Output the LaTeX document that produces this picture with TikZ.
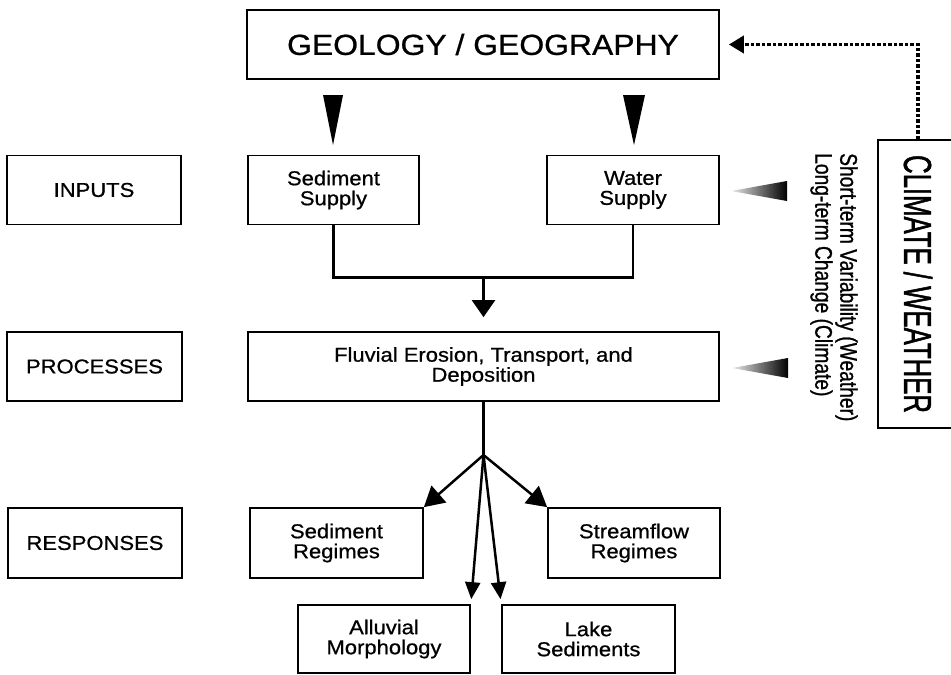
\documentclass[tikz,border=0pt]{standalone}
\usepackage{fontspec}
\setmainfont{Liberation Sans}[FakeStretch=1.1,FakeBold=0.8]
\newfontfamily\narrowfont{Liberation Sans}[FakeStretch=0.8,FakeBold=1]
\newfontfamily\tallfont{Liberation Sans}[FakeStretch=0.66,FakeBold=1.2]
\usetikzlibrary{arrows.meta,shapes}
\tikzset{
	box/.style={draw,line width=1.7pt,minimum width=172pt,minimum height=69pt,align=center,inner sep=0pt,font=\fontsize{20}{20}\selectfont},
	edge/.style={color=black, line width=2.5pt},
	diredge/.style={-{Triangle[length=20pt,width=22pt]},color=black, line width=2.5pt},
	diredge2/.style={-{Triangle[length=17pt,width=15pt]},color=black, line width=2.5pt},
	downedge/.style={-{Triangle[length=17pt,width=23pt]},color=black, line width=2.5pt},
	dotedge/.style={-{Triangle[length=15pt,width=17pt]},line width=3.8pt,dash pattern=on 3.5pt off 2pt,shorten >=9pt},
	bigtip/.style={fill=black},
	fadetip/.style={left color=black!8,right color=black}
}
\begin{document}
\begin{tikzpicture}[x=1pt,y=-1pt]
	\useasboundingbox (0,0) rectangle (951,675);
	%%%% top
	\node[box,minimum width=472pt,font=\fontsize{29}{29}\selectfont] (geo) at (483,44.5) {GEOLOGY / GEOGRAPHY};
	\fill[bigtip] (323,95) -- (343,95) -- (333,145) -- cycle;
	\fill[bigtip] (623,95) -- (645,95) -- (634,145) -- cycle;
	
	%%%% inputs
	\node[box,minimum width=174pt] (inputs) at (94,190) {INPUTS};
	\node[box,minimum width=171pt] (sedsup) at (333.5,190) {Sediment\\Supply};
	\node[box] (watsup) at (633,190) {Water\\Supply};
	\draw[edge] (sedsup.south) -- ++(0,52) -| (watsup.south);
	\coordinate (merge) at (483.5,276);
	
	%%%% processes
	\node[box,minimum width=175pt] (processes) at (94.5,366.5) {PROCESSES};
	\node[box,minimum width=471pt] (fluvial) at (483.5,366.5) {Fluvial Erosion, Transport, and\\Deposition};
	\draw[downedge,shorten >=14pt] (merge) -- (fluvial.north);
	\coordinate (split) at (483.5,455);
	\draw[edge] (fluvial.south) -- (split);
	
	%%%% responses
	\node[box,minimum width=174pt,minimum height=70pt] (responses) at (95,543) {RESPONSES};
	\node[box,minimum width=173pt,minimum height=70pt] (sedreg) at (336.5,543) {Sediment\\Regimes};
	\node[box,minimum height=70pt] (streamreg) at (634,543) {Streamflow\\Regimes};
	\node[box,minimum height=68pt] (alluvial) at (384,639) {Alluvial\\Morphology};
	\node[box,minimum width=173pt,minimum height=68pt] (lake) at (588.5,639) {Lake\\Sediments};
	\draw[diredge] (split) -- (sedreg.north east);
	\draw[diredge] (split) -- (streamreg.north west);
	\draw[diredge2,shorten >=5pt] (split) -- (alluvial.north east);
	\draw[diredge2,shorten >=5pt] (split) -- (lake.north west);
	
	%%%% climate
	\node[box,rotate=-90,minimum width=288pt,minimum height=80pt,font=\tallfont\fontsize{39}{39}\selectfont] (climate) at (918,284) {CLIMATE / WEATHER};
	\node[rotate=-90,anchor=west,align=left,inner sep=0pt,font=\narrowfont\fontsize{24}{25}\selectfont] (timescale) at (834,153) {Short-term Variability (Weather)\\Long-term Change (Climate)};
	\draw[dotedge] (climate.west) |- (geo.east);
	\shade[fadetip] (731,191) -- (787,181) -- (787,201) -- cycle;
	\shade[fadetip] (732,368) -- (788,358) -- (788,378) -- cycle;
\end{tikzpicture}
\end{document}
